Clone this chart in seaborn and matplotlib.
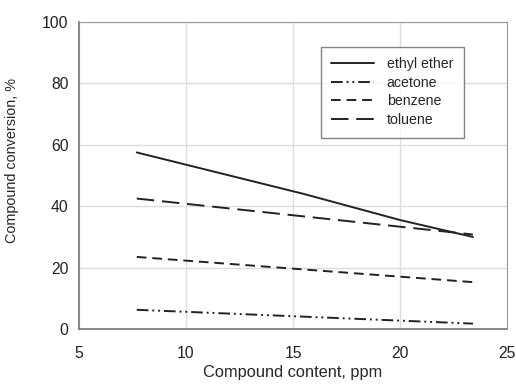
import matplotlib
matplotlib.use('Agg')
import matplotlib.pyplot as plt
import seaborn as sns
import pandas as pd

# values
ether_x = [7.7, 15.5, 20.0, 23.4]
ether_y = [57.5, 44.0, 35.5, 30.0]
acetone_x = [7.7, 23.4]
acetone_y = [6.3, 1.8]
benzene_x = [7.7, 23.4]
benzene_y = [23.5, 15.3]
toluene_x = [7.7, 23.4]
toluene_y = [42.5, 30.8]

sns.set_style('white')
plt.rcParams['font.family'] = ['Liberation Sans', 'DejaVu Sans']

frames = []
for name, xs, ys in [('ethyl ether', ether_x, ether_y),
                     ('acetone', acetone_x, acetone_y),
                     ('benzene', benzene_x, benzene_y),
                     ('toluene', toluene_x, toluene_y)]:
    frames.append(pd.DataFrame({'ppm': xs, 'conv': ys, 'compound': name}))
df = pd.concat(frames, ignore_index=True)

fig = plt.figure(figsize=(5.16, 3.9), dpi=100)
ax = fig.add_axes([0.153, 0.156, 0.830, 0.788])

dash_map = {'ethyl ether': '',
            'acetone': (6, 2, 1, 2, 1, 2),
            'benzene': (5, 3),
            'toluene': (9, 4)}
sns.lineplot(data=df, x='ppm', y='conv', hue='compound', style='compound',
             palette=['#222222'] * 4, dashes=dash_map, linewidth=1.4,
             ax=ax, legend=True)

ax.set_xlim(5, 25)
ax.set_ylim(0, 100)
ax.set_xticks([5, 10, 15, 20, 25])
ax.set_yticks([0, 20, 40, 60, 80, 100])
ax.grid(True, color='#dddddd', linewidth=1)
ax.set_axisbelow(True)
for side in ['top', 'right']:
    ax.spines[side].set_color('#999999')
for side in ['left', 'bottom']:
    ax.spines[side].set_color('#777777')
    ax.spines[side].set_linewidth(1.2)
ax.tick_params(axis='both', direction='out', length=4, width=1, color='#777777',
               labelsize=11.3, labelcolor='#222222')
ax.tick_params(axis='x', pad=8)
ax.set_xlabel('Compound content, ppm', fontsize=11.8, labelpad=3)
ax.set_ylabel('Compound conversion, %', fontsize=10.4)
ax.yaxis.set_label_coords(-0.14, 0.55)

leg = ax.legend(loc='upper left', bbox_to_anchor=(0.548, 0.942), fontsize=10.2,
                frameon=True, fancybox=False, edgecolor='#666666',
                handlelength=3.0, borderpad=0.75, labelspacing=0.32,
                handletextpad=0.9)
leg.get_frame().set_linewidth(1.0)

fig.savefig('out.png', dpi=100)
